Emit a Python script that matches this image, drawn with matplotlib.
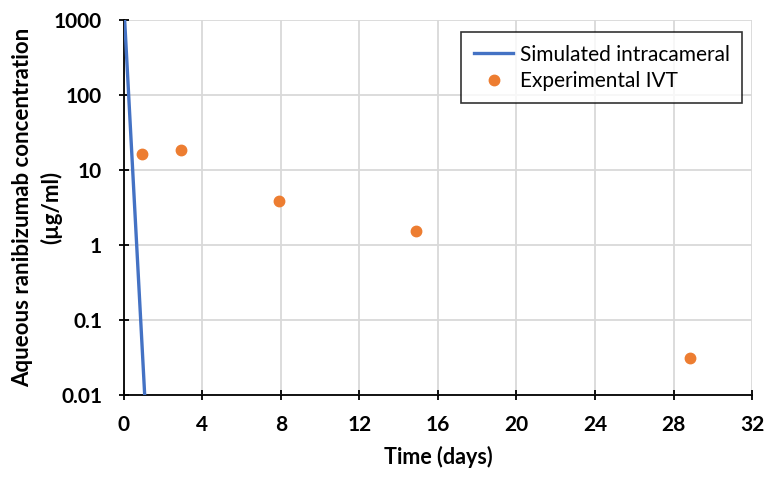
import matplotlib
matplotlib.use("Agg")
import matplotlib.pyplot as plt
from matplotlib.ticker import FixedLocator, FuncFormatter, NullLocator

plt.rcParams['font.family'] = ['Lato', 'DejaVu Sans']

# Simulated intracameral line
sim_x = [0.05, 1.07]
sim_y = [1000, 0.01]

# Experimental IVT points
exp_x = [0.93, 2.9, 7.9, 14.9, 28.85]
exp_y = [16.3, 18.5, 3.9, 1.54, 0.031]

x_ticks = [0, 4, 8, 12, 16, 20, 24, 28, 32]
y_ticks = [0.01, 0.1, 1, 10, 100, 1000]

fig = plt.figure(figsize=(7.73, 4.8), dpi=100)
ax = fig.add_axes([0.160, 0.177, 0.813, 0.781])

ax.plot(sim_x, sim_y, color='#4472C4', lw=2.4, label='Simulated intracameral', zorder=3)
ax.plot(exp_x, exp_y, 'o', color='#ED7D31', ms=7.5, label='Experimental IVT', zorder=4)

ax.set_yscale('log')
ax.set_xlim(0, 32)
ax.set_ylim(0.01, 1000)
ax.xaxis.set_major_locator(FixedLocator(x_ticks))
ax.yaxis.set_major_locator(FixedLocator(y_ticks))
ax.yaxis.set_minor_locator(NullLocator())
ax.yaxis.set_major_formatter(FuncFormatter(lambda v, p: '%g' % v))

ax.grid(True, color='#D9D9D9', lw=1.3)
ax.set_axisbelow(True)
for s in ['top', 'right']:
    ax.spines[s].set_visible(False)
for s in ['left', 'bottom']:
    ax.spines[s].set_color('black')
    ax.spines[s].set_linewidth(1.3)
ax.tick_params(axis='both', direction='inout', length=7, width=1.3, labelsize=15)
ax.tick_params(axis='x', pad=11)
ax.tick_params(axis='y', pad=12)
for lab in ax.get_xticklabels() + ax.get_yticklabels():
    lab.set_fontweight('bold')

ax.set_xlabel('Time (days)', fontsize=15.5, fontweight='bold', labelpad=8)
ax.set_ylabel('Aqueous ranibizumab concentration\n(µg/ml)', fontsize=16, fontweight='bold',
              linespacing=1.4)
ax.yaxis.set_label_coords(-0.097, 0.5)

leg = ax.legend(loc='upper right', bbox_to_anchor=(0.984, 0.968), borderaxespad=0,
                fontsize=15, frameon=True, fancybox=False, edgecolor='black',
                handlelength=1.9, handletextpad=0.3, borderpad=0.6, labelspacing=0.3)
leg.get_frame().set_linewidth(1.2)

fig.savefig('out.png', dpi=100, facecolor='white')
